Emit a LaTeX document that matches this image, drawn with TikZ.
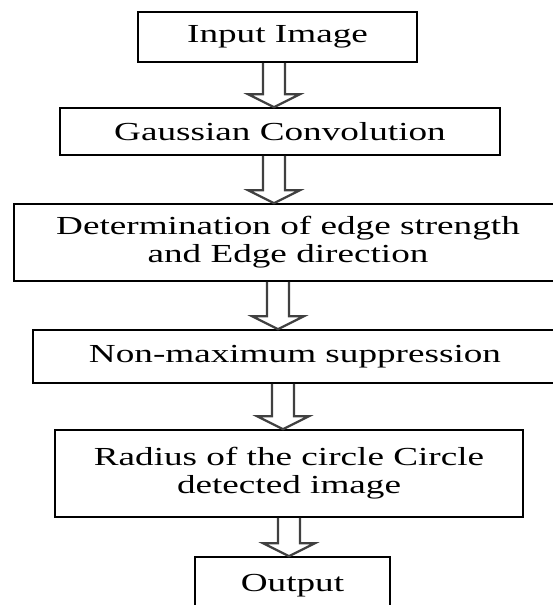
\documentclass[tikz,border=0pt]{standalone}
\usepackage{fontspec}
\setmainfont[FakeStretch=1.43]{Liberation Serif}
\usetikzlibrary{calc}

\tikzset{
  stage/.style={draw=black, line width=1.6pt, fill=white, align=center, inner sep=0pt,
    font=\fontsize{26}{28}\selectfont},
  hollow/.style={draw=black!75, line width=2.2pt,
    to path={let \p1=(\tikztostart), \p2=(\tikztotarget) in
      (\x1-11pt,\y1) -- (\x1-11pt,\y2+13pt) -- (\x1-26pt,\y2+13pt) -- (\x2,\y2)
      -- (\x1+26pt,\y2+13pt) -- (\x1+11pt,\y2+13pt) -- (\x1+11pt,\y1)}}
}

\begin{document}
\begin{tikzpicture}[x=1pt,y=-1pt]

  \useasboundingbox (0,0) rectangle (553,605);

  % Stages
  \node[stage, minimum width=279pt, minimum height=50pt] (inp) at (277.5,37) {Input Image};
  \node[stage, minimum width=440pt, minimum height=47pt] (gauss) at (280,131.5) {Gaussian Convolution};
  \node[stage, minimum width=548pt, minimum height=77pt] (edge) at (288,242.5) {Determination of edge strength\\and Edge direction};
  \node[stage, minimum width=524pt, minimum height=53pt] (nms) at (295,356.5) {Non-maximum suppression};
  \node[stage, minimum width=468pt, minimum height=87pt] (radius) at (289,473.5) {Radius of the circle Circle\\detected image};
  \node[stage, minimum width=195pt, minimum height=58pt] (out) at (292.5,586) {Output};

  \coordinate (A1) at (274,0);
  \coordinate (A2) at (274,0);
  \coordinate (A3) at (278,0);
  \coordinate (A4) at (283,0);
  \coordinate (A5) at (289,0);

  % Draw arrows
  \draw[hollow] (A1 |- inp.south) to (A1 |- gauss.north);
  \draw[hollow] (A2 |- gauss.south) to (A2 |- edge.north);
  \draw[hollow] (A3 |- edge.south) to (A3 |- nms.north);
  \draw[hollow] (A4 |- nms.south) to (A4 |- radius.north);
  \draw[hollow] (A5 |- radius.south) to (A5 |- out.north);

\end{tikzpicture}
\end{document}
